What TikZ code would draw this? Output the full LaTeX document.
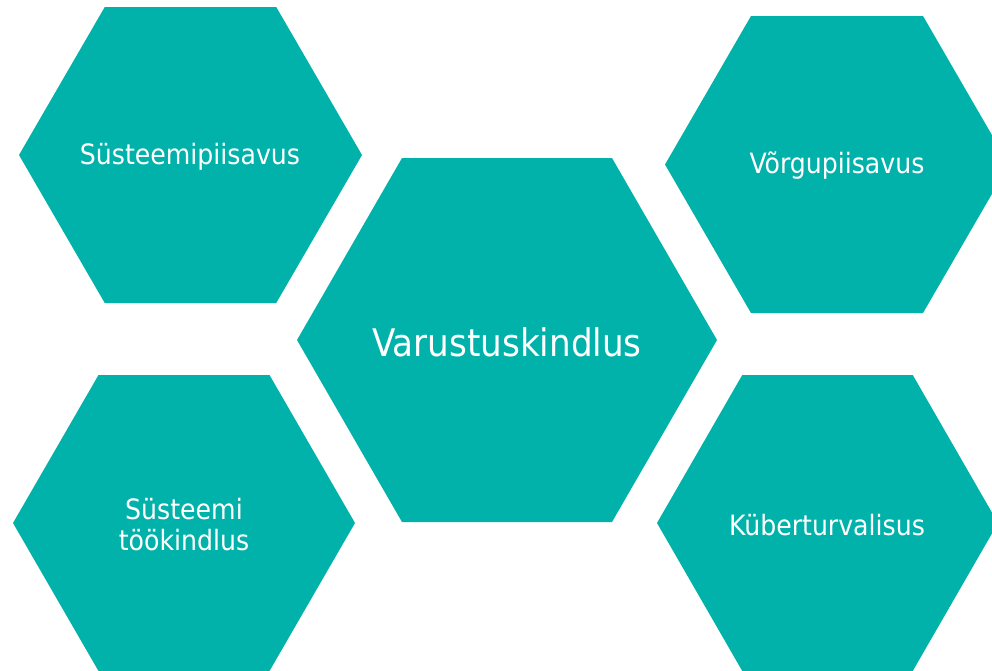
\documentclass[tikz,border=0pt]{standalone}
\usepackage{fontspec}
\setmainfont{DejaVu Sans Condensed}
\definecolor{hexteal}{RGB}{0,178,170}
\tikzset{
  hexfill/.style={fill=hexteal},
  lbl/.style={text=white, align=center, inner sep=0pt, font=\fontsize{28}{31}\selectfont},
  biglbl/.style={text=white, align=center, inner sep=0pt, font=\fontsize{38}{44}\selectfont}
}
% \hexagon{cx}{cy}{side}{halfheight}
\newcommand{\hexagon}[4]{%
  \fill[hexfill] ({#1-#3},{#2}) -- ({#1-#3/2},{#2-#4}) -- ({#1+#3/2},{#2-#4})
    -- ({#1+#3},{#2}) -- ({#1+#3/2},{#2+#4}) -- ({#1-#3/2},{#2+#4}) -- cycle;}
\begin{document}
\begin{tikzpicture}[x=1pt,y=-1pt]
\useasboundingbox (0,0) rectangle (992,670);
\clip (0,0) rectangle (992,670);
\hexagon{190.5}{155}{171.5}{148}
\hexagon{837}{164.5}{172}{148.5}
\hexagon{507}{340}{210}{182}
\hexagon{184}{523}{171}{148}
\hexagon{827.5}{523}{170.5}{148}
\node[lbl] (sp) at (190,157) {Süsteemipiisavus};
\node[lbl] (vp) at (837,166) {Võrgupiisavus};
\node[biglbl] (vk) at (507,342) {Varustuskindlus};
\node[lbl] (st) at (184,525) {Süsteemi\\töökindlus};
\node[lbl] (kt) at (827,525) {Küberturvalisus};
\end{tikzpicture}
\end{document}
